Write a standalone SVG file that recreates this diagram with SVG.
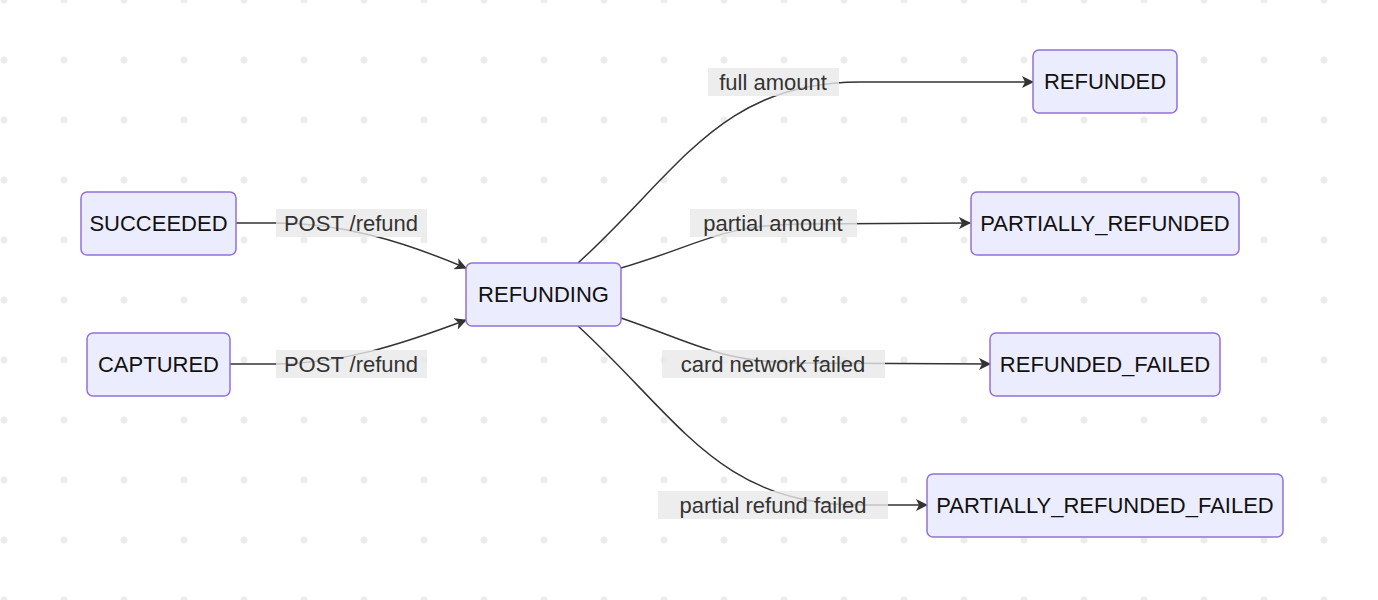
<svg xmlns="http://www.w3.org/2000/svg" width="1378" height="600" viewBox="0 0 1378 600">
<defs>
<pattern id="dots" x="4" y="0" width="60" height="60" patternUnits="userSpaceOnUse"><circle cx="0" cy="0" r="3.5" fill="#ececec"/><circle cx="60" cy="0" r="3.5" fill="#ececec"/><circle cx="0" cy="60" r="3.5" fill="#ececec"/><circle cx="60" cy="60" r="3.5" fill="#ececec"/></pattern>
<marker id="arr" viewBox="0 0 12 12" refX="11" refY="6" markerWidth="12" markerHeight="12" markerUnits="userSpaceOnUse" orient="auto"><path d="M0,0 L12,6 L0,12 L3,6 z" fill="#333"/></marker>
</defs>
<style>
.n rect{fill:#ececff;stroke:#9370db;stroke-width:1.5}
.n text{font-family:"Liberation Sans",Arial,sans-serif;font-size:22px;fill:#111;text-anchor:middle;dominant-baseline:central}
.e path{fill:none;stroke:#333;stroke-width:1.5;marker-end:url(#arr)}
.l rect{fill:#e8e8e8;opacity:0.8}
.l text{font-family:"Liberation Sans",Arial,sans-serif;font-size:22px;fill:#333;text-anchor:middle;dominant-baseline:central}
</style>
<rect width="1378" height="600" fill="#fff"/>
<rect width="1378" height="600" fill="url(#dots)"/>
<g id="connectors">
<g class="e">
<path d="M236,223 L276,223 C340,223 400,240 466,268"/>
<path d="M230,364 L276,364 C340,364 400,345 466,320"/>
<path d="M578,263 C680,170 720,82 860,82 L1033,82"/>
<path d="M621,268 C700,245 720,225 800,224 L970,223"/>
<path d="M621,318 C700,345 720,362 800,363 L990,364"/>
<path d="M578,326 C680,420 720,505 860,505 L927,505"/>
</g>
<g class="l">
<rect x="276" y="209" width="151" height="28"/><text x="351" y="223">POST /refund</text>
<rect x="276" y="350" width="151" height="28"/><text x="351" y="364">POST /refund</text>
<rect x="708" y="68" width="131" height="28"/><text x="773" y="82">full amount</text>
<rect x="690" y="209" width="167" height="28"/><text x="773" y="223">partial amount</text>
<rect x="662" y="350" width="223" height="28"/><text x="773" y="364">card network failed</text>
<rect x="658" y="491" width="230" height="28"/><text x="773" y="505">partial refund failed</text>
</g>
</g>
<g id="SUCCEEDED" class="n"><rect x="81" y="192" width="155" height="63" rx="6"/><text x="158.5" y="223.5">SUCCEEDED</text></g>
<g id="CAPTURED" class="n"><rect x="87" y="333" width="143" height="63" rx="6"/><text x="158.5" y="364.5">CAPTURED</text></g>
<g id="REFUNDING" class="n"><rect x="466" y="263" width="155" height="63" rx="6"/><text x="543.5" y="294.5">REFUNDING</text></g>
<g id="REFUNDED" class="n"><rect x="1033" y="50" width="144" height="63" rx="6"/><text x="1105" y="81.5">REFUNDED</text></g>
<g id="PARTIALLY_REFUNDED" class="n"><rect x="971" y="192" width="268" height="63" rx="6"/><text x="1105" y="223.5">PARTIALLY_REFUNDED</text></g>
<g id="REFUNDED_FAILED" class="n"><rect x="990" y="333" width="230" height="63" rx="6"/><text x="1105" y="364.5">REFUNDED_FAILED</text></g>
<g id="PARTIALLY_REFUNDED_FAILED" class="n"><rect x="927" y="474" width="356" height="63" rx="6"/><text x="1105" y="505.5">PARTIALLY_REFUNDED_FAILED</text></g>
</svg>
